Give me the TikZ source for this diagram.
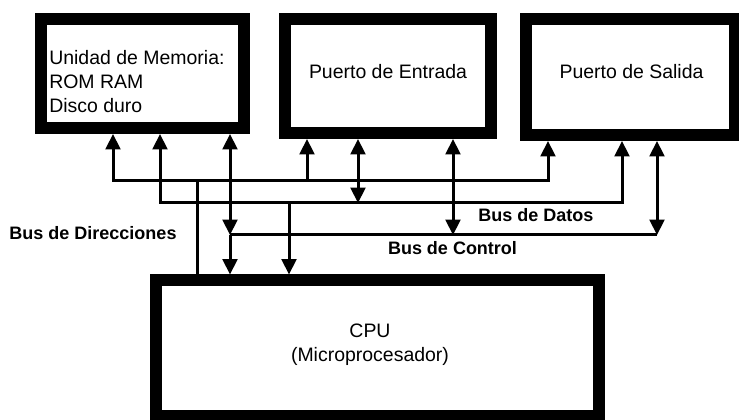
\documentclass[tikz,border=0pt]{standalone}
\usepackage{fontspec}
\setmainfont{Liberation Sans}
\usetikzlibrary{arrows.meta}

\begin{document}
\begin{tikzpicture}[x=0.75pt,y=-0.75pt,
        unit/.style={draw,line width=9pt,inner sep=0pt},
        unittext/.style={inner sep=0pt,font=\fontsize{14.6}{18}\selectfont},
        buslabel/.style={inner sep=0pt,font=\bfseries\fontsize{13.5}{16}\selectfont},
        bus/.style={line width=2.25pt},
        >={Triangle[width=11pt,length=11.5pt]}]
        \clip (0,0) rectangle (739,420);
        %% units
        \node[unit,minimum width=152.25pt,minimum height=81.75pt] (mem) at (142.5,73.5) {};
        \node[unit,minimum width=154.5pt,minimum height=85.5pt] (ent) at (388,76) {};
        \node[unit,minimum width=156.75pt,minimum height=87pt] (sal) at (630.5,77) {};
        \node[unit,minimum width=332.25pt,minimum height=101.25pt] (cpu) at (377,348) {};
        \node[unittext,anchor=west,align=left] (memtxt) at (49,81.5) {Unidad de Memoria:\\ROM RAM\\Disco duro};
        \node[unittext] (enttxt) at (388,71.5) {Puerto de Entrada};
        \node[unittext] (saltxt) at (631.5,71.5) {Puerto de Salida};
        \node[unittext,align=center] (cputxt) at (370,345) {CPU\\(Microprocesador)};
        %% address bus
        \coordinate (dirL) at (113,181);
        \coordinate (dirE) at (307,181);
        \coordinate (dirR) at (548,181);
        \coordinate (dirC) at (197,181);
        \draw[bus,<->] (dirL |- mem.south) -- (dirL) -- (dirR) -- (dirR |- sal.south);
        \draw[bus,->] (dirE) -- (dirE |- ent.south);
        \draw[bus] (dirC) -- (dirC |- cpu.north);
        %% data bus
        \coordinate (datL) at (160,203);
        \coordinate (datE) at (358,203);
        \coordinate (datR) at (622,203);
        \coordinate (datC) at (289,203);
        \draw[bus,<->] (datL |- mem.south) -- (datL) -- (datR) -- (datR |- sal.south);
        \draw[bus,<->] (datE |- ent.south) -- (datE);
        \draw[bus,->] (datC) -- (datC |- cpu.north);
        %% control bus
        \coordinate (ctlL) at (230,235);
        \coordinate (ctlE) at (453,235);
        \coordinate (ctlR) at (657,235);
        \draw[bus] (ctlL) -- (ctlR);
        \draw[bus,<->] (ctlL |- mem.south) -- (ctlL);
        \draw[bus,->] (ctlL) -- (ctlL |- cpu.north);
        \draw[bus,<->] (ctlE |- ent.south) -- (ctlE);
        \draw[bus,<->] (ctlR |- sal.south) -- (ctlR);
        %% labels
        \node[buslabel] (dirlab) at (93,233) {Bus de Direcciones};
        \node[buslabel] (datlab) at (536,215) {Bus de Datos};
        \node[buslabel] (ctllab) at (452.5,248) {Bus de Control};
    \end{tikzpicture}
\end{document}
